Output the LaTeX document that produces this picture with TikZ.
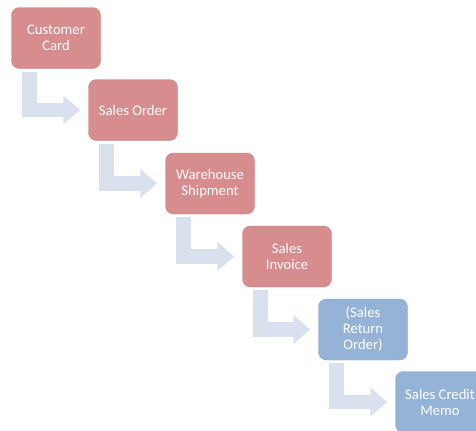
\documentclass[tikz,border=0pt]{standalone}
\usepackage{fontspec}
\setmainfont{Carlito}
\usetikzlibrary{arrows.meta,calc}

\definecolor{stepred}{RGB}{215,140,142}
\definecolor{stepblue}{RGB}{149,179,215}
\definecolor{flowgray}{RGB}{217,225,238}

\begin{document}
\begin{tikzpicture}[x=0.75pt,y=0.75pt,yscale=-1,xscale=1,
	docbox/.style={rounded corners=6pt,minimum width=66.75pt,minimum height=45.75pt,inner sep=2pt,align=center,text=white,font=\fontsize{11}{12}\selectfont},
	redbox/.style={docbox,fill=stepred,draw=stepred!92!black,line width=0.3pt},
	bluebox/.style={docbox,fill=stepblue,draw=stepblue!92!black,line width=0.3pt},
	flow/.style={draw=flowgray,line width=11pt,miter limit=10,-{Triangle[length=12.75pt,width=21pt,fill=flowgray]}}]
	\useasboundingbox (0,0) rectangle (476,430);
	
	%Shape: Rounded Rect [id:cust]
	\node [redbox] (cust) at (56,38) {Customer\\Card};
	%Shape: Rounded Rect [id:order]
	\node [redbox] (order) at (133,110) {Sales Order};
	%Shape: Rounded Rect [id:ship]
	\node [redbox] (ship) at (210,183.5) {Warehouse\\Shipment};
	%Shape: Rounded Rect [id:inv]
	\node [redbox] (inv) at (287,256.5) {Sales\\Invoice};
	%Shape: Rounded Rect [id:ret]
	\node [bluebox] (ret) at (363,329.5) {(Sales\\Return\\Order)};
	%Shape: Rounded Rect [id:memo]
	\node [bluebox] (memo) at (440,402) {Sales Credit\\Memo};
	
	%Bent Arrows
	\draw [flow] ($(cust.south west)+(18,3)$) |- ($(order.west)+(-8,0)$);
	\draw [flow] ($(order.south west)+(18,3)$) |- ($(ship.west)+(-8,0)$);
	\draw [flow] ($(ship.south west)+(18,3)$) |- ($(inv.west)+(-8,0)$);
	\draw [flow] ($(inv.south west)+(18,3)$) |- ($(ret.west)+(-8,0)$);
	\draw [flow] ($(ret.south west)+(18,3)$) |- ($(memo.west)+(-8,0)$);
	
\end{tikzpicture}
\end{document}
